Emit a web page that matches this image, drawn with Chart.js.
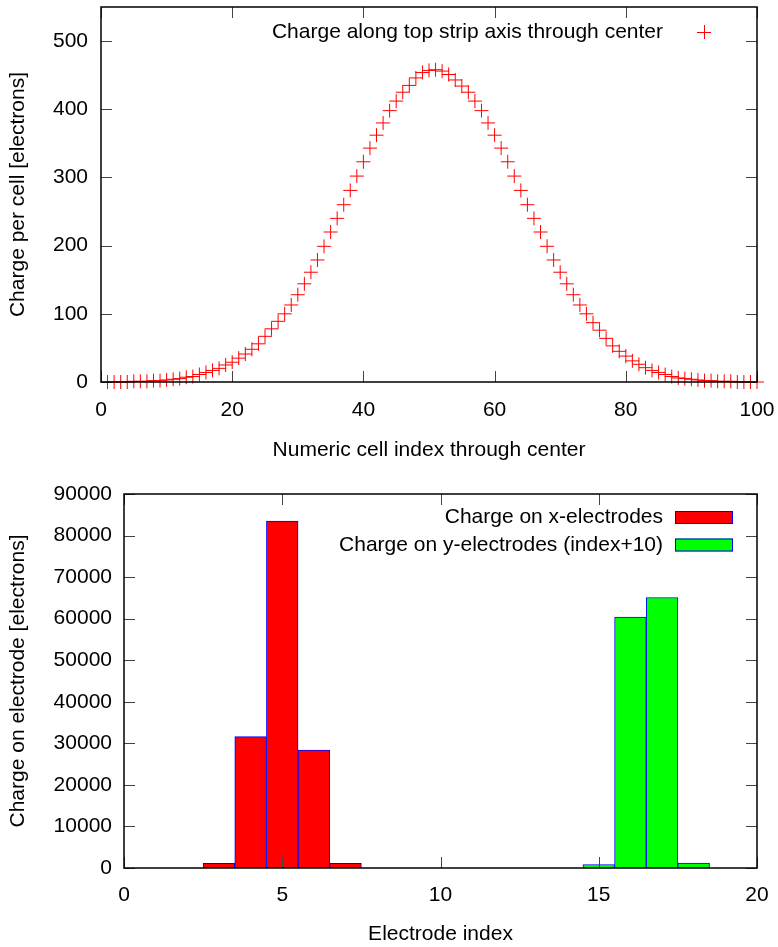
<!DOCTYPE html>
<html>
<head>
<meta charset="utf-8">
<title>Charge per cell and per electrode</title>
<script src="https://cdn.jsdelivr.net/npm/chart.js@4.4.1/dist/chart.umd.min.js"></script>
<style>
  html, body { margin: 0; padding: 0; background: #fff; overflow: hidden; }
  #wrap { position: relative; width: 778px; height: 947px; }
  canvas { position: absolute; left: 0; }
  #cellChart { top: 0; }
  #electrodeChart { top: 464px; }
</style>
</head>
<body>
<div id="wrap">
  <canvas id="cellChart" width="778" height="464"></canvas>
  <canvas id="electrodeChart" width="778" height="483"></canvas>
</div>
<script>
// --- top plot: charge along the strip axis ---
const cellIndex = [
  1, 2, 3, 4, 5, 6, 7, 8, 9, 10, 11, 12, 13, 14, 15, 16, 17, 18, 19, 20,
  21, 22, 23, 24, 25, 26, 27, 28, 29, 30, 31, 32, 33, 34, 35, 36, 37, 38, 39, 40,
  41, 42, 43, 44, 45, 46, 47, 48, 49, 50, 51, 52, 53, 54, 55, 56, 57, 58, 59, 60,
  61, 62, 63, 64, 65, 66, 67, 68, 69, 70, 71, 72, 73, 74, 75, 76, 77, 78, 79, 80,
  81, 82, 83, 84, 85, 86, 87, 88, 89, 90, 91, 92, 93, 94, 95, 96, 97, 98, 99, 100
];
const cellCharge = [
  0, 0, 0, 0, 1, 1, 1, 2, 2, 3, 4, 5, 7, 8, 11, 14, 17, 20, 25, 29,
  35, 41, 48, 56, 67, 78, 89, 100, 113, 128, 144, 161, 179, 199, 220, 240, 260, 281, 302, 323,
  343, 362, 380, 398, 412, 425, 435, 446, 454, 457, 458, 456, 451, 443, 434, 425, 412, 398, 380, 362,
  343, 323, 302, 281, 260, 240, 220, 199, 179, 161, 144, 128, 113, 100, 87, 76, 64, 53, 45, 38,
  31, 26, 21, 17, 14, 11, 8, 6, 5, 4, 3, 2, 2, 1, 1, 1, 0, 0, 0, 0
];
const cellXTicks = [0, 20, 40, 60, 80, 100];
const cellYTicks = [0, 100, 200, 300, 400, 500];

// --- bottom plot: charge per electrode ---
const xElectrodeIndex = [3, 4, 5, 6, 7];
const xElectrodeCharge = [1100, 31600, 83500, 28400, 1100];
const yElectrodeIndex = [15, 16, 17, 18];   // index + 10
const yElectrodeCharge = [850, 60400, 65100, 1200];
const electrodeXTicks = [0, 5, 10, 15, 20];
const electrodeYTicks = [0, 10000, 20000, 30000, 40000, 50000, 60000, 70000, 80000, 90000];

const FONT = '"Liberation Sans", Arial, sans-serif';
const FONT_SIZE = 21;
Chart.defaults.font.family = FONT;
Chart.defaults.font.size = FONT_SIZE;
Chart.defaults.color = '#000';

function toPoints(xs, ys) {
    return xs.map((x, i) => ({ x: x, y: ys[i] }));
}

function fixedTicks(list) {
    return function (scale) {
        scale.ticks = list.map(v => ({ value: v }));
    };
}

// fixed axis box sizes, and no extra room for the outer tick labels
function fixWidth(w) {
    return function (s) {
        s.width = w;
        s.paddingTop = 0;
        s.paddingBottom = 0;
    };
}

function fixHeight(h) {
    return function (s) {
        s.height = h;
        s.paddingLeft = 0;
        s.paddingRight = 0;
    };
}

// gnuplot style box with inward ticks on all four sides
const frameTicks = {
    id: 'frameTicks',
    afterDatasetsDraw(chart) {
        const { ctx, chartArea: a, scales } = chart;
        const len = 11;
        ctx.save();
        ctx.strokeStyle = '#444';
        ctx.lineWidth = 1;
        ctx.beginPath();
        scales.x.ticks.forEach(t => {
            const px = Math.round(scales.x.getPixelForValue(t.value)) + 0.5;
            ctx.moveTo(px, a.bottom);
            ctx.lineTo(px, a.bottom - len);
            ctx.moveTo(px, a.top);
            ctx.lineTo(px, a.top + len);
        });
        scales.y.ticks.forEach(t => {
            const py = Math.round(scales.y.getPixelForValue(t.value)) + 0.5;
            ctx.moveTo(a.left, py);
            ctx.lineTo(a.left + len, py);
            ctx.moveTo(a.right, py);
            ctx.lineTo(a.right - len, py);
        });
        ctx.stroke();
        ctx.strokeStyle = '#000';
        ctx.lineWidth = 1.5;
        ctx.strokeRect(a.left, a.top, a.right - a.left, a.bottom - a.top);
        ctx.restore();
    }
};

// key in the top right corner: text first, then the sample
const gnuKey = {
    id: 'gnuKey',
    afterDraw(chart, args, opts) {
        const { ctx, chartArea: a } = chart;
        ctx.save();
        ctx.font = FONT_SIZE + 'px ' + FONT;
        ctx.fillStyle = '#000';
        ctx.textAlign = 'right';
        ctx.textBaseline = 'middle';
        chart.data.datasets.forEach((ds, i) => {
            const y = a.top + opts.top + i * 27.5;
            ctx.fillStyle = '#000';
            ctx.fillText(ds.label, a.right - 94, y);
            if (opts.kind === 'cross') {
                const cx = a.right - 53;
                ctx.strokeStyle = ds.borderColor;
                ctx.lineWidth = 1;
                ctx.beginPath();
                ctx.moveTo(cx - 7, y + 0.5);
                ctx.lineTo(cx + 7, y + 0.5);
                ctx.moveTo(cx + 0.5, y - 7);
                ctx.lineTo(cx + 0.5, y + 7);
                ctx.stroke();
            } else {
                ctx.fillStyle = ds.backgroundColor;
                ctx.fillRect(a.right - 82, y - 6.5, 58, 13);
                ctx.strokeStyle = ds.borderColor;
                ctx.lineWidth = 1;
                ctx.strokeRect(a.right - 81.5, y - 6, 57, 12);
            }
        });
        ctx.restore();
    }
};

new Chart(document.getElementById('cellChart'), {
    type: 'scatter',
    data: {
        datasets: [{
            label: 'Charge along top strip axis through center',
            data: toPoints(cellIndex, cellCharge),
            showLine: false,
            pointStyle: 'cross',
            pointRadius: 7,
            pointBorderWidth: 1,
            borderColor: '#ff0000',
            backgroundColor: '#ff0000',
            clip: false
        }]
    },
    options: {
        responsive: false,
        animation: false,
        events: [],
        layout: { autoPadding: false, padding: { left: 0, right: 21, top: 7, bottom: 0 } },
        plugins: {
            legend: { display: false },
            tooltip: { enabled: false },
            gnuKey: { top: 25, kind: 'cross' }
        },
        scales: {
            x: {
                type: 'linear',
                min: 0,
                max: 100,
                afterBuildTicks: fixedTicks(cellXTicks),
                afterFit: fixHeight(82),
                grid: { display: false, drawTicks: false },
                border: { display: false },
                ticks: { padding: 15.4, maxRotation: 0 },
                title: { display: true, text: 'Numeric cell index through center', padding: { top: 0, bottom: 1.4 } }
            },
            y: {
                type: 'linear',
                min: 0,
                max: 550,
                afterBuildTicks: fixedTicks(cellYTicks),
                afterFit: fixWidth(101),
                grid: { display: false, drawTicks: false },
                border: { display: false },
                ticks: { padding: 13 },
                title: { display: true, text: 'Charge per cell [electrons]', padding: { top: 5.4, bottom: 0 } }
            }
        }
    },
    plugins: [frameTicks, gnuKey]
});

new Chart(document.getElementById('electrodeChart'), {
    type: 'bar',
    data: {
        datasets: [{
            label: 'Charge on x-electrodes',
            data: toPoints(xElectrodeIndex, xElectrodeCharge),
            backgroundColor: '#ff0000',
            borderColor: '#0000ff',
            borderWidth: 1
        }, {
            label: 'Charge on y-electrodes (index+10)',
            data: toPoints(yElectrodeIndex, yElectrodeCharge),
            backgroundColor: '#00ff00',
            borderColor: '#0000ff',
            borderWidth: 1
        }]
    },
    options: {
        responsive: false,
        animation: false,
        events: [],
        grouped: false,
        barPercentage: 1,
        categoryPercentage: 1,
        layout: { autoPadding: false, padding: { left: 0, right: 21, top: 30, bottom: 0 } },
        plugins: {
            legend: { display: false },
            tooltip: { enabled: false },
            gnuKey: { top: 23.5, kind: 'box' }
        },
        scales: {
            x: {
                type: 'linear',
                offset: false,
                min: 0,
                max: 20,
                afterBuildTicks: fixedTicks(electrodeXTicks),
                afterFit: fixHeight(79),
                grid: { display: false, drawTicks: false, offset: false },
                border: { display: false },
                ticks: { padding: 14.9, maxRotation: 0 },
                title: { display: true, text: 'Electrode index', padding: { top: 0, bottom: 0 } }
            },
            y: {
                type: 'linear',
                min: 0,
                max: 90000,
                afterBuildTicks: fixedTicks(electrodeYTicks),
                afterFit: fixWidth(124),
                grid: { display: false, drawTicks: false },
                border: { display: false },
                ticks: { padding: 12, callback: v => v },
                title: { display: true, text: 'Charge on electrode [electrons]', padding: { top: 5.4, bottom: 0 } }
            }
        }
    },
    plugins: [frameTicks, gnuKey]
});
</script>
</body>
</html>
